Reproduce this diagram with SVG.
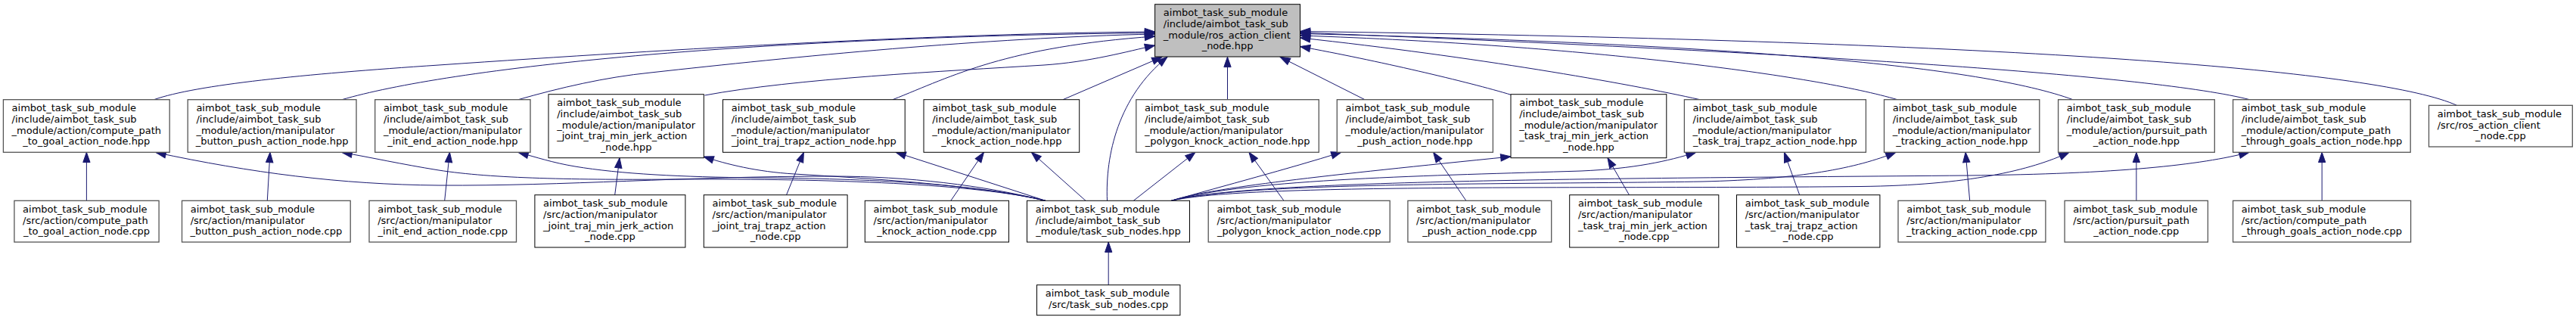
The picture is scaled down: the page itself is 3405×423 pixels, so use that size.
<svg xmlns="http://www.w3.org/2000/svg" width="3405" height="423" viewBox="0 0 3405 423">
<style>
.n rect{fill:#fff;stroke:#000;stroke-width:1}
.n.g rect{stroke:#555;stroke-width:1.3}
#root rect{fill:#bfbfbf}
text{font-family:"DejaVu Sans","Liberation Sans",sans-serif;font-size:13px;fill:#000}
.c{text-anchor:middle}
#edges path{fill:none;stroke:#191970;stroke-width:1;marker-end:url(#ah)}
</style>
<defs>
<marker id="ah" markerUnits="userSpaceOnUse" markerWidth="14" markerHeight="10" refX="13.3" refY="4.65" orient="auto" overflow="visible">
<path d="M0,0 L13.3,4.65 L0,9.3 Z" fill="#191970" stroke="#191970" stroke-width="1"/>
</marker>
</defs>
<rect width="3405" height="423" fill="#fff"/>
<g id="edges">
<path d="M203.5,131.7 C260,112 400,98 580,86 C900,64 1250,44 1526.6,42"/>
<path d="M452,131.7 C520,112 650,90 860,72 C1100,52 1350,45 1526.6,43.5"/>
<path d="M685,131.7 C740,116 800,102 860,96 C1050,75 1300,50 1526.6,45"/>
<path d="M931.5,126 C1050,104 1250,94 1380,86 C1440,82 1490,68 1526.6,60"/>
<path d="M1180,131.7 C1260,100 1330,62 1526.6,48"/>
<path d="M1405,131.7 L1536,75.3"/>
<path d="M1622.5,131.7 L1622.5,75.3"/>
<path d="M1804,131.7 L1692,75.3"/>
<path d="M1998,125.5 C1940,108 1820,80 1718.5,61.5"/>
<path d="M2247,131.7 C2150,110 1950,75 1718.5,50"/>
<path d="M2508,131.7 C2400,100 2100,60 1718.5,47"/>
<path d="M2740,131.7 C2620,88 2300,58 1718.5,44.5"/>
<path d="M2973.6,131.7 C2850,100 2400,70 1718.5,43"/>
<path d="M3247.5,139.3 C3150,95 2700,55 1718.5,41.5"/>
<path d="M1463.5,265.3 C1461,205 1478,128 1543,75.3"/>
<path d="M114.4,265.3 L114.4,201.3"/>
<path d="M353.3,265.3 L357,201.3"/>
<path d="M587.7,265.3 L594.4,201.3"/>
<path d="M812.7,257.7 L819,208.7"/>
<path d="M1039.5,257.7 L1062.4,201.3"/>
<path d="M1256.8,265.3 L1300.5,201.3"/>
<path d="M1697,265.3 L1650.9,201.3"/>
<path d="M1937.9,265.3 L1894.6,201.3"/>
<path d="M2153.5,257.7 L2125,208.7"/>
<path d="M2378.7,257.7 L2358.4,201.3"/>
<path d="M2603.7,265.3 L2598.1,201.3"/>
<path d="M2823.9,265.3 L2823.9,201.3"/>
<path d="M3069.2,265.3 L3069.2,201.3"/>
<path d="M1382,265.3 C1300,245 1200,233 1100,233 C900,233 750,246 580,245 C450,244 330,228 206,201.5"/>
<path d="M1382,265.3 C1290,243 1100,236 900,237 C760,238 650,236 580,225 C530,217 490,208 452,201.5"/>
<path d="M1382,265.3 C1290,243 1150,236 1000,235 C900,234 820,230 760,220 C730,215 710,208 685,201.5"/>
<path d="M1382,265.3 C1290,244 1150,236 1050,230 C1000,227 960,217 930,207"/>
<path d="M1382,265.3 L1184,201.3"/>
<path d="M1435,265.3 L1363.3,201.3"/>
<path d="M1498.3,265.3 L1580,201.3"/>
<path d="M1548.3,265.3 C1620,245 1700,224 1773,201.3"/>
<path d="M1548.3,265.3 C1600,248 1750,232 1997,207"/>
<path d="M1548.3,265.3 C1650,236 1900,232 2090,226 C2160,223 2205,213 2242,201.3"/>
<path d="M1548.3,265.3 C1650,240 2000,244 2250,240 C2380,237 2455,222 2506,201.3"/>
<path d="M1548.3,265.3 C1650,242 2100,250 2460,246.5 C2600,245 2685,225 2735,201.3"/>
<path d="M1548.3,265.3 C1650,238 2100,236 2600,232 C2800,230 2910,218 2973,201.3"/>
<path d="M1465.2,376.7 L1465.2,320"/>
</g>
<g id="root" class="n"><rect x="1526.6" y="5.7" width="191.9" height="69.3"/><text x="1537.8" y="21.3">aimbot_task_sub_module</text><text x="1537.8" y="36">/include/aimbot_task_sub</text><text x="1537.8" y="50.7">_module/ros_action_client</text><text class="c" x="1622.55" y="65.4">_node.hpp</text></g>
<g id="a1" class="n g"><rect x="4.4" y="131.7" width="219.8" height="69.6"/><text x="15.6" y="147.3">aimbot_task_sub_module</text><text x="15.6" y="162">/include/aimbot_task_sub</text><text x="15.6" y="176.7">_module/action/compute_path</text><text class="c" x="114.3" y="191.4">_to_goal_action_node.hpp</text></g>
<g id="a2" class="n g"><rect x="248.2" y="131.7" width="222.8" height="69.6"/><text x="259.4" y="147.3">aimbot_task_sub_module</text><text x="259.4" y="162">/include/aimbot_task_sub</text><text x="259.4" y="176.7">_module/action/manipulator</text><text class="c" x="359.6" y="191.4">_button_push_action_node.hpp</text></g>
<g id="a3" class="n g"><rect x="495.7" y="131.7" width="205.3" height="69.6"/><text x="506.9" y="147.3">aimbot_task_sub_module</text><text x="506.9" y="162">/include/aimbot_task_sub</text><text x="506.9" y="176.7">_module/action/manipulator</text><text class="c" x="598.35" y="191.4">_init_end_action_node.hpp</text></g>
<g id="a4" class="n"><rect x="725" y="124.7" width="205.3" height="84"/><text x="736.2" y="140.3">aimbot_task_sub_module</text><text x="736.2" y="155">/include/aimbot_task_sub</text><text x="736.2" y="169.7">_module/action/manipulator</text><text x="736.2" y="184.4">_joint_traj_min_jerk_action</text><text class="c" x="827.65" y="199.1">_node.hpp</text></g>
<g id="a5" class="n"><rect x="955.5" y="131.7" width="240.7" height="69.6"/><text x="966.7" y="147.3">aimbot_task_sub_module</text><text x="966.7" y="162">/include/aimbot_task_sub</text><text x="966.7" y="176.7">_module/action/manipulator</text><text class="c" x="1075.85" y="191.4">_joint_traj_trapz_action_node.hpp</text></g>
<g id="a6" class="n"><rect x="1221" y="131.7" width="205.7" height="69.6"/><text x="1232.2" y="147.3">aimbot_task_sub_module</text><text x="1232.2" y="162">/include/aimbot_task_sub</text><text x="1232.2" y="176.7">_module/action/manipulator</text><text class="c" x="1323.85" y="191.4">_knock_action_node.hpp</text></g>
<g id="a7" class="n g"><rect x="1501.8" y="131.7" width="241.5" height="69.6"/><text x="1513" y="147.3">aimbot_task_sub_module</text><text x="1513" y="162">/include/aimbot_task_sub</text><text x="1513" y="176.7">_module/action/manipulator</text><text class="c" x="1622.55" y="191.4">_polygon_knock_action_node.hpp</text></g>
<g id="a8" class="n g"><rect x="1767.3" y="131.7" width="206.1" height="69.6"/><text x="1778.5" y="147.3">aimbot_task_sub_module</text><text x="1778.5" y="162">/include/aimbot_task_sub</text><text x="1778.5" y="176.7">_module/action/manipulator</text><text class="c" x="1870.35" y="191.4">_push_action_node.hpp</text></g>
<g id="a9" class="n"><rect x="1997" y="124.7" width="205.8" height="84"/><text x="2008.2" y="140.3">aimbot_task_sub_module</text><text x="2008.2" y="155">/include/aimbot_task_sub</text><text x="2008.2" y="169.7">_module/action/manipulator</text><text x="2008.2" y="184.4">_task_traj_min_jerk_action</text><text class="c" x="2099.9" y="199.1">_node.hpp</text></g>
<g id="a10" class="n g"><rect x="2226.4" y="131.7" width="240" height="69.6"/><text x="2237.6" y="147.3">aimbot_task_sub_module</text><text x="2237.6" y="162">/include/aimbot_task_sub</text><text x="2237.6" y="176.7">_module/action/manipulator</text><text class="c" x="2346.4" y="191.4">_task_traj_trapz_action_node.hpp</text></g>
<g id="a11" class="n g"><rect x="2490.5" y="131.7" width="205.3" height="69.6"/><text x="2501.7" y="147.3">aimbot_task_sub_module</text><text x="2501.7" y="162">/include/aimbot_task_sub</text><text x="2501.7" y="176.7">_module/action/manipulator</text><text class="c" x="2593.15" y="191.4">_tracking_action_node.hpp</text></g>
<g id="a12" class="n g"><rect x="2720.6" y="131.7" width="206.7" height="69.6"/><text x="2731.8" y="147.3">aimbot_task_sub_module</text><text x="2731.8" y="162">/include/aimbot_task_sub</text><text x="2731.8" y="176.7">_module/action/pursuit_path</text><text class="c" x="2823.95" y="191.4">_action_node.hpp</text></g>
<g id="a13" class="n g"><rect x="2951.6" y="131.7" width="234.6" height="69.6"/><text x="2962.8" y="147.3">aimbot_task_sub_module</text><text x="2962.8" y="162">/include/aimbot_task_sub</text><text x="2962.8" y="176.7">_module/action/compute_path</text><text class="c" x="3068.9" y="191.4">_through_goals_action_node.hpp</text></g>
<g id="e" class="n g"><rect x="3210.5" y="139.3" width="189.8" height="54.7"/><text x="3221.7" y="154.9">aimbot_task_sub_module</text><text x="3221.7" y="169.6">/src/ros_action_client</text><text class="c" x="3305.4" y="184.3">_node.cpp</text></g>
<g id="b1" class="n g"><rect x="18.9" y="265.3" width="191.2" height="54.7"/><text x="30.1" y="280.9">aimbot_task_sub_module</text><text x="30.1" y="295.6">/src/action/compute_path</text><text class="c" x="114.5" y="310.3">_to_goal_action_node.cpp</text></g>
<g id="b2" class="n g"><rect x="240.5" y="265.3" width="222.7" height="54.7"/><text x="251.7" y="280.9">aimbot_task_sub_module</text><text x="251.7" y="295.6">/src/action/manipulator</text><text class="c" x="351.85" y="310.3">_button_push_action_node.cpp</text></g>
<g id="b3" class="n g"><rect x="488" y="265.3" width="194.5" height="54.7"/><text x="499.2" y="280.9">aimbot_task_sub_module</text><text x="499.2" y="295.6">/src/action/manipulator</text><text class="c" x="585.25" y="310.3">_init_end_action_node.cpp</text></g>
<g id="b4" class="n"><rect x="706.9" y="257.7" width="199" height="69.3"/><text x="718.1" y="273.3">aimbot_task_sub_module</text><text x="718.1" y="288">/src/action/manipulator</text><text x="718.1" y="302.7">_joint_traj_min_jerk_action</text><text class="c" x="806.4" y="317.4">_node.cpp</text></g>
<g id="b5" class="n"><rect x="930.3" y="257.7" width="189.8" height="69.3"/><text x="941.5" y="273.3">aimbot_task_sub_module</text><text x="941.5" y="288">/src/action/manipulator</text><text x="941.5" y="302.7">_joint_traj_trapz_action</text><text class="c" x="1025.2" y="317.4">_node.cpp</text></g>
<g id="b6" class="n"><rect x="1143.3" y="265.3" width="190.2" height="54.7"/><text x="1154.5" y="280.9">aimbot_task_sub_module</text><text x="1154.5" y="295.6">/src/action/manipulator</text><text class="c" x="1238.4" y="310.3">_knock_action_node.cpp</text></g>
<g id="c" class="n"><rect x="1357.5" y="265.3" width="215" height="54.7"/><text x="1368.7" y="280.9">aimbot_task_sub_module</text><text x="1368.7" y="295.6">/include/aimbot_task_sub</text><text class="c" x="1465" y="310.3">_module/task_sub_nodes.hpp</text></g>
<g id="b7" class="n g"><rect x="1597.2" y="265.3" width="240" height="54.7"/><text x="1608.4" y="280.9">aimbot_task_sub_module</text><text x="1608.4" y="295.6">/src/action/manipulator</text><text class="c" x="1717.2" y="310.3">_polygon_knock_action_node.cpp</text></g>
<g id="b8" class="n g"><rect x="1860.9" y="265.3" width="189.8" height="54.7"/><text x="1872.1" y="280.9">aimbot_task_sub_module</text><text x="1872.1" y="295.6">/src/action/manipulator</text><text class="c" x="1955.8" y="310.3">_push_action_node.cpp</text></g>
<g id="b9" class="n"><rect x="2074.7" y="257.7" width="197.1" height="69.3"/><text x="2085.9" y="273.3">aimbot_task_sub_module</text><text x="2085.9" y="288">/src/action/manipulator</text><text x="2085.9" y="302.7">_task_traj_min_jerk_action</text><text class="c" x="2173.25" y="317.4">_node.cpp</text></g>
<g id="b10" class="n"><rect x="2295.5" y="257.7" width="189.4" height="69.3"/><text x="2306.7" y="273.3">aimbot_task_sub_module</text><text x="2306.7" y="288">/src/action/manipulator</text><text x="2306.7" y="302.7">_task_traj_trapz_action</text><text class="c" x="2390.2" y="317.4">_node.cpp</text></g>
<g id="b11" class="n g"><rect x="2509" y="265.3" width="194.9" height="54.7"/><text x="2520.2" y="280.9">aimbot_task_sub_module</text><text x="2520.2" y="295.6">/src/action/manipulator</text><text class="c" x="2606.45" y="310.3">_tracking_action_node.cpp</text></g>
<g id="b12" class="n g"><rect x="2729.1" y="265.3" width="189.3" height="54.7"/><text x="2740.3" y="280.9">aimbot_task_sub_module</text><text x="2740.3" y="295.6">/src/action/pursuit_path</text><text class="c" x="2823.75" y="310.3">_action_node.cpp</text></g>
<g id="b13" class="n g"><rect x="2951.6" y="265.3" width="235" height="54.7"/><text x="2962.8" y="280.9">aimbot_task_sub_module</text><text x="2962.8" y="295.6">/src/action/compute_path</text><text class="c" x="3069.1" y="310.3">_through_goals_action_node.cpp</text></g>
<g id="d" class="n"><rect x="1370.5" y="376.7" width="189.4" height="40"/><text x="1381.7" y="392.3">aimbot_task_sub_module</text><text class="c" x="1465.2" y="407">/src/task_sub_nodes.cpp</text></g>
</svg>
